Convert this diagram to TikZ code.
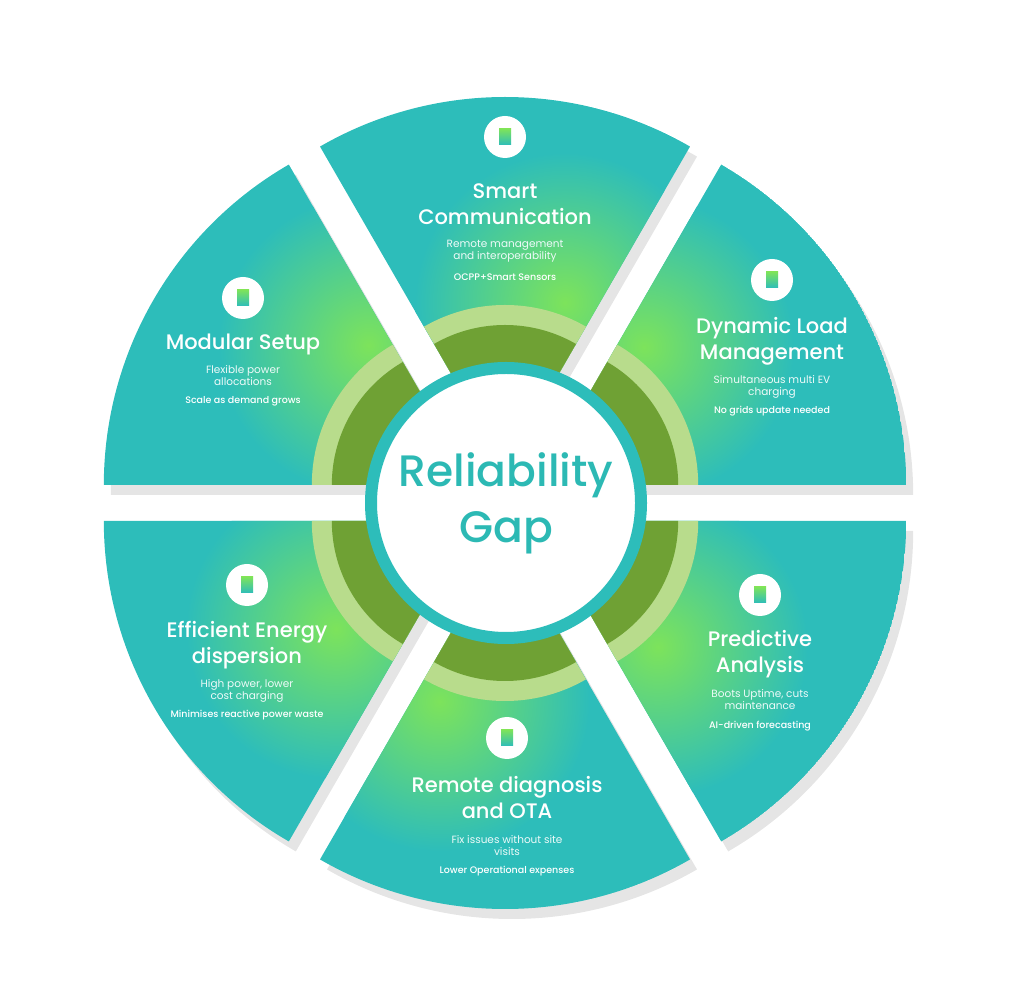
\documentclass[tikz,border=0pt]{standalone}
\usepackage{fontspec}
\setmainfont{Poppins}
\newfontfamily\medfont{Poppins Medium}
\usetikzlibrary{calc}
\definecolor{teal1}{HTML}{2DBDBA}
\definecolor{green1}{HTML}{7DE35B}
\definecolor{lightband}{HTML}{B8DC8C}
\definecolor{darkband}{HTML}{6FA134}
\definecolor{ctext}{HTML}{2CB9B4}
\tikzset{
 ttl/.style={text=white,font=\medfont\fontsize{21}{26}\selectfont,align=center},
 sub/.style={text=white!92!teal1,font=\fontsize{10.5}{12}\selectfont,align=center},
 bld/.style={text=white,font=\medfont\fontsize{9.5}{11}\selectfont},
 icon/.style={circle,fill=white,minimum size=42pt,inner sep=0pt},
}
\newcommand\shadowsec[1]{%
  \coordinate (S) at ($(C)+(#1:36)+(7,-10)$);
  \fill[black!10] (S) -- ++(#1-30:370) arc[start angle=#1-30,end angle=#1+30,radius=370] -- cycle;}
\newcommand\mysec[2]{%
  \coordinate (S) at ($(C)+(#1:36)$);
  \begin{scope}
   \clip (S) -- ++(#1-30:370) arc[start angle=#1-30,end angle=#1+30,radius=370] -- cycle;
   \fill[teal1] (S) circle (370);
   \shade[inner color=green1,outer color=teal1] ($(S)+(#2:175)$) circle (150);
   \fill[lightband] (S) circle (162);
   \fill[darkband] (S) circle (142);
  \end{scope}}
\newcommand\ico[2]{%
 \node[icon] (#1) at #2 {};
 \shade[top color=green1,bottom color=teal1] ($(#1)+(-6,-8)$) rectangle ($(#1)+(6,8)$);}
\begin{document}
\begin{tikzpicture}[x=1pt,y=1pt]
\useasboundingbox (0,0) rectangle (1024,1001);
\coordinate (C) at (505,498);
\foreach \a in {90,30,-30,-90,-150,150} {\shadowsec{\a}}
\mysec{90}{70}
\mysec{30}{52}
\mysec{-30}{-46}
\mysec{-90}{-112}
\mysec{-150}{-142}
\mysec{150}{127}
\node[circle,fill=white,draw=teal1,line width=12pt,minimum size=270pt] (ctr) at (506,498) {};
\node[text=ctext,font=\medfont\fontsize{44}{56}\selectfont,align=center] (ctrt) at (506,498) {Reliability\\Gap};
% top
\ico{i1}{(505,864)}
\node[ttl] (t1) at (505,797) {Smart\\Communication};
\node[sub] (s1) at (505,750) {Remote management\\and interoperability};
\node[bld] (b1) at (505,724) {OCPP+Smart Sensors};
% upper right
\ico{i2}{(772,721)}
\node[ttl] (t2) at (772,660) {Dynamic Load\\Management};
\node[sub] (s2) at (772,614) {Simultaneous multi EV\\charging};
\node[bld] (b2) at (772,590) {No grids update needed};
% lower right
\ico{i3}{(760,406)}
\node[ttl] (t3) at (760,347) {Predictive\\Analysis};
\node[sub] (s3) at (760,301) {Boots Uptime, cuts\\maintenance};
\node[bld] (b3) at (760,275) {AI-driven forecasting};
% bottom
\ico{i4}{(507,263)}
\node[ttl] (t4) at (507,203) {Remote diagnosis\\and OTA};
\node[sub] (s4) at (507,155) {Fix issues without site\\visits};
\node[bld] (b4) at (507,130) {Lower Operational expenses};
% lower left
\ico{i5}{(247,416)}
\node[ttl] (t5) at (247,356) {Efficient Energy\\dispersion};
\node[sub] (s5) at (247,310) {High power, lower\\cost charging};
\node[bld] (b5) at (247,286) {Minimises reactive power waste};
% upper left
\ico{i6}{(243,703)}
\node[ttl] (t6) at (243,657) {Modular Setup};
\node[sub] (s6) at (243,625) {Flexible power\\allocations};
\node[bld] (b6) at (243,600) {Scale as demand grows};
\end{tikzpicture}
\end{document}
